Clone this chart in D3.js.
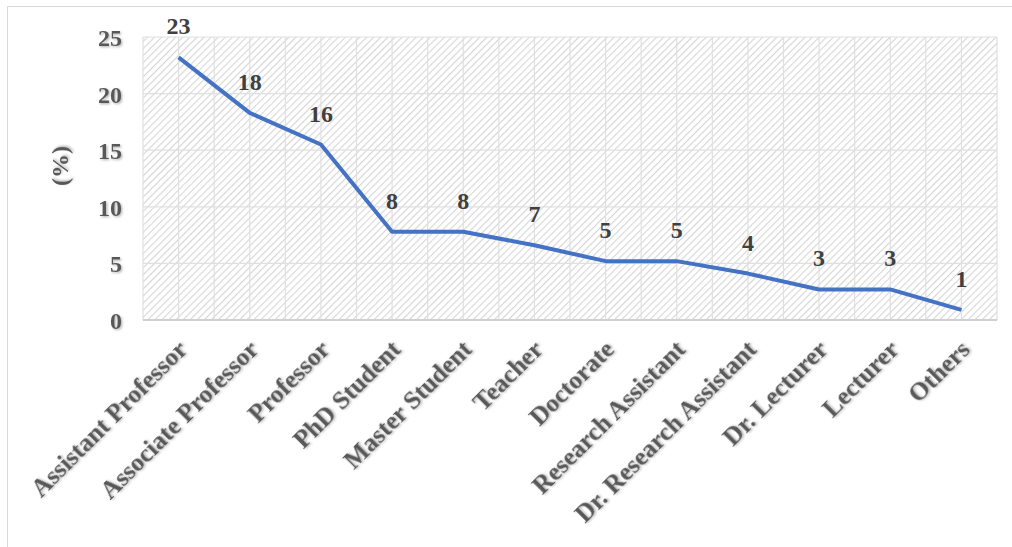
<!DOCTYPE html>
<html>
<head>
<meta charset="utf-8">
<script src="https://cdn.jsdelivr.net/npm/d3@7"></script>
<style>
  body { margin: 0; background: #fff; }
  text { font-family: "Liberation Serif", "Times New Roman", serif; font-weight: bold; }
</style>
</head>
<body>
<svg id="chart" width="1012" height="547"></svg>
<script>
// categories and values
var categories = ["Assistant Professor", "Associate Professor", "Professor", "PhD Student",
  "Master Student", "Teacher", "Doctorate", "Research Assistant", "Dr. Research Assistant",
  "Dr. Lecturer", "Lecturer", "Others"];
var values = [23.2, 18.3, 15.5, 7.8, 7.8, 6.6, 5.2, 5.2, 4.1, 2.7, 2.7, 0.9];
var labels = ["23", "18", "16", "8", "8", "7", "5", "5", "4", "3", "3", "1"];
var yTicks = [0, 5, 10, 15, 20, 25];

var svg = d3.select("#chart");
var plotLeft = 143, plotRight = 997, plotTop = 37, plotBottom = 320;

var defs = svg.append("defs");
var pat = defs.append("pattern")
    .attr("id", "hatch")
    .attr("patternUnits", "userSpaceOnUse")
    .attr("width", 5).attr("height", 5)
    .attr("patternTransform", "rotate(45)");
pat.append("rect").attr("width", 5).attr("height", 5).attr("fill", "#fff");
pat.append("line")
    .attr("x1", 0).attr("y1", 0).attr("x2", 0).attr("y2", 5)
    .attr("stroke", "#d6d6d6").attr("stroke-width", 2.2);

var sh = defs.append("filter").attr("id", "shadow")
    .attr("x", "-10%").attr("y", "-30%").attr("width", "130%").attr("height", "160%");
sh.append("feDropShadow")
    .attr("dx", 1.2).attr("dy", 1.2).attr("stdDeviation", 1)
    .attr("flood-color", "#000").attr("flood-opacity", 0.3);

// outer frame
svg.append("rect")
    .attr("x", 7.5).attr("y", 6.5).attr("width", 1020).attr("height", 560)
    .attr("fill", "#fff").attr("stroke", "#d9d9d9").attr("stroke-width", 1);

var x = d3.scaleBand().domain(categories).range([plotLeft, plotRight]);
var y = d3.scaleLinear().domain([0, 25]).range([plotBottom, plotTop]);

// plot area with hatch
svg.append("rect")
    .attr("x", plotLeft).attr("y", plotTop)
    .attr("width", plotRight - plotLeft).attr("height", plotBottom - plotTop)
    .attr("fill", "url(#hatch)");

// vertical grid: category edges and centers
var half = x.bandwidth() / 2;
var vx = d3.range(0, categories.length * 2 + 1).map(function(i) { return plotLeft + i * half; });
svg.append("g").selectAll("line").data(vx).join("line")
    .attr("x1", function(d) { return d; }).attr("x2", function(d) { return d; })
    .attr("y1", plotTop).attr("y2", plotBottom)
    .attr("stroke", "#e0e0e0").attr("stroke-width", 1.2);

// horizontal grid
svg.append("g").selectAll("line").data(yTicks).join("line")
    .attr("x1", plotLeft).attr("x2", plotRight)
    .attr("y1", function(d) { return y(d); }).attr("y2", function(d) { return y(d); })
    .attr("stroke", function(d) { return d === 0 ? "#d0d0d0" : "#e0e0e0"; })
    .attr("stroke-width", function(d) { return d === 0 ? 2 : 1.2; });

// y axis
var yAxis = svg.append("g")
    .attr("transform", "translate(" + 122 + ",0)")
    .call(d3.axisLeft(y).tickValues(yTicks).tickSize(0).tickPadding(0));
yAxis.select(".domain").remove();
yAxis.selectAll("text")
    .attr("dy", "0.35em")
    .style("font-size", "24px")
    .style("font-family", "Liberation Serif, serif")
    .attr("fill", "#595959")
    .attr("filter", "url(#shadow)");

svg.append("text")
    .attr("transform", "translate(68,166) rotate(-90)")
    .attr("text-anchor", "middle")
    .attr("font-size", "24px")
    .attr("fill", "#595959")
    .attr("filter", "url(#shadow)")
    .text("(%)");

// x axis labels
var xAxis = svg.append("g")
    .attr("transform", "translate(0," + plotBottom + ")")
    .call(d3.axisBottom(x).tickSize(0).tickPadding(0));
xAxis.select(".domain").remove();
xAxis.selectAll("text")
    .attr("text-anchor", "end")
    .attr("dy", 0)
    .attr("transform", "translate(10,31) rotate(-45)")
    .style("font-size", "25.5px")
    .style("font-family", "Liberation Serif, serif")
    .attr("fill", "#595959")
    .attr("filter", "url(#shadow)");

// line
var line = d3.line()
    .x(function(d, i) { return x(categories[i]) + half; })
    .y(function(d) { return y(d); });
svg.append("path")
    .datum(values)
    .attr("d", line)
    .attr("fill", "none")
    .attr("stroke", "#4472c4")
    .attr("stroke-width", 4)
    .attr("stroke-linejoin", "round");

// data labels
svg.append("g").selectAll("text").data(values).join("text")
    .attr("x", function(d, i) { return x(categories[i]) + half; })
    .attr("y", function(d) { return y(d) - 23; })
    .attr("text-anchor", "middle")
    .attr("font-size", "24px")
    .attr("fill", "#404040")
    .text(function(d, i) { return labels[i]; });
</script>
</body>
</html>
